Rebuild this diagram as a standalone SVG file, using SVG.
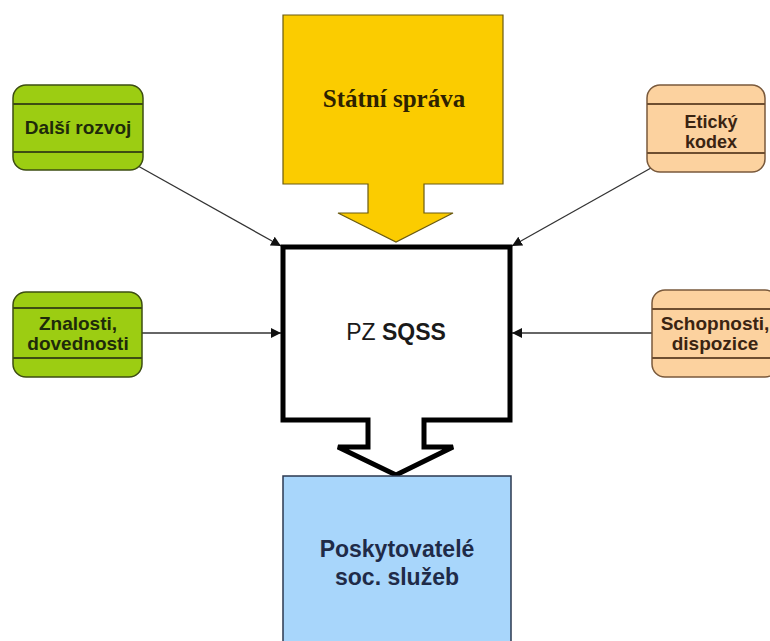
<svg xmlns="http://www.w3.org/2000/svg" width="770" height="641" viewBox="0 0 770 641">
<defs>
<style>
.lbl{font-family:"Liberation Sans",Arial,sans-serif;font-weight:bold;font-size:19px;text-anchor:middle}
.g{fill:#9ccd12;stroke:#3d4d12;stroke-width:1.5}
.gl{stroke:#3d4d12;stroke-width:2}
.o{fill:#fcd29f;stroke:#7a5a3c;stroke-width:1.5}
.ol{stroke:#6e4e30;stroke-width:2}
.conn{stroke:#333;stroke-width:1.3;fill:none;marker-end:url(#ah)}
</style>
<marker id="ah" viewBox="0 0 10 10" refX="10" refY="5" markerWidth="10" markerHeight="10" markerUnits="userSpaceOnUse" orient="auto">
<path d="M0,0 L10,5 L0,10 z" fill="#111"/>
</marker>
</defs>
<rect width="770" height="641" fill="#fff"/>

<g id="connectors">
<line class="conn" x1="138" y1="166" x2="281" y2="246"/>
<line class="conn" x1="651" y1="168" x2="512" y2="246"/>
<line class="conn" x1="142" y1="333" x2="281" y2="333"/>
<line class="conn" x1="652" y1="333" x2="512" y2="333"/>
</g>

<g id="statni-sprava">
<polygon points="283,15 503,15 503,184 424,184 424,213 453,213 396,242 338,213 368,213 368,184 283,184" fill="#fbcc00" stroke="#6a5a10" stroke-width="1.2"/>
<text x="394" y="107" font-family="'Liberation Serif','Times New Roman',serif" font-weight="bold" font-size="25" fill="#2e2200" text-anchor="middle">Státní správa</text>
</g>

<g id="pz-sqss">
<polygon points="283,247 510,247 510,420 424,420 424,447 453,447 396,475 338,447 368,447 368,420 283,420" fill="#fff" stroke="#000" stroke-width="5" stroke-linejoin="miter"/>
<text x="396" y="340" font-family="'Liberation Sans',Arial,sans-serif" font-size="23" fill="#1a1a1a" text-anchor="middle">PZ <tspan font-weight="bold">SQSS</tspan></text>
</g>

<g id="poskytovatele">
<rect x="283" y="476" width="228" height="175" fill="#a8d6fb" stroke="#2b3850" stroke-width="1.5"/>
<text x="397" y="557" font-family="'Liberation Sans',Arial,sans-serif" font-weight="bold" font-size="23" fill="#1f2b48" text-anchor="middle">Poskytovatelé</text>
<text x="397" y="585" font-family="'Liberation Sans',Arial,sans-serif" font-weight="bold" font-size="23" fill="#1f2b48" text-anchor="middle">soc. služeb</text>
</g>

<g id="dalsi-rozvoj">
<rect class="g" x="13" y="85" width="130" height="85" rx="13"/>
<line class="gl" x1="13" y1="104" x2="143" y2="104"/>
<line class="gl" x1="13" y1="152" x2="143" y2="152"/>
<text class="lbl" x="78" y="134" fill="#1e2a0a">Další rozvoj</text>
</g>

<g id="znalosti">
<rect class="g" x="13" y="292" width="129" height="85" rx="13"/>
<line class="gl" x1="13" y1="308" x2="142" y2="308"/>
<line class="gl" x1="13" y1="358" x2="142" y2="358"/>
<text class="lbl" x="78" y="330" fill="#1e2a0a">Znalosti,</text>
<text class="lbl" x="78" y="350" fill="#1e2a0a">dovednosti</text>
</g>

<g id="eticky-kodex">
<rect class="o" x="647" y="85" width="118" height="87" rx="13"/>
<line class="ol" x1="647" y1="104" x2="765" y2="104"/>
<line class="ol" x1="647" y1="153" x2="765" y2="153"/>
<text class="lbl" x="711" y="128" fill="#3a2412" style="font-size:18px">Etický</text>
<text class="lbl" x="711" y="148" fill="#3a2412" style="font-size:18px">kodex</text>
</g>

<g id="schopnosti">
<rect class="o" x="652" y="290" width="126" height="87" rx="13"/>
<line class="ol" x1="652" y1="309" x2="778" y2="309"/>
<line class="ol" x1="652" y1="358" x2="778" y2="358"/>
<text class="lbl" x="715" y="330" fill="#3a2412">Schopnosti,</text>
<text class="lbl" x="715" y="350" fill="#3a2412">dispozice</text>
</g>
</svg>
